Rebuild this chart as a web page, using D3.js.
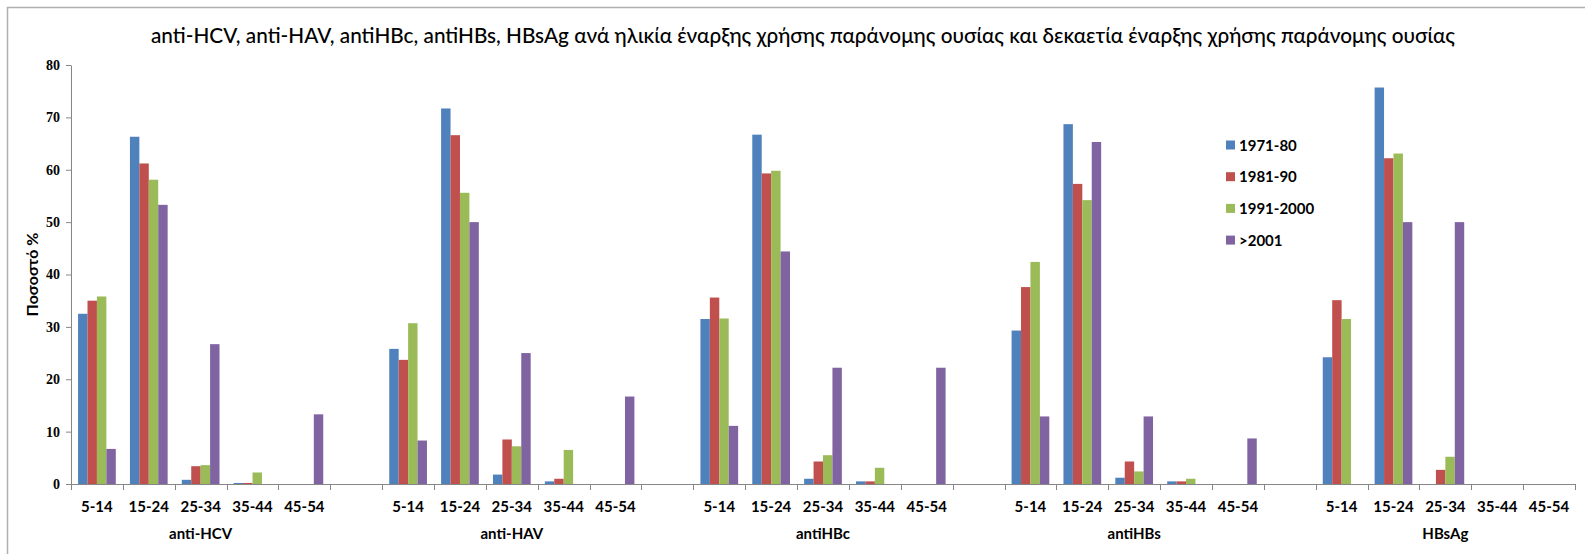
<!DOCTYPE html>
<html>
<head>
<meta charset="utf-8">
<script src="https://cdn.jsdelivr.net/npm/d3@7"></script>
<style>
  html, body { margin: 0; padding: 0; background: #fff; }
  svg { display: block; }
</style>
</head>
<body>
<svg id="chart" width="1585" height="554"></svg>
<script>
// Markers and age groups at first illicit use
const markers = ["anti-HCV", "anti-HAV", "antiHBc", "antiHBs", "HBsAg"];
const ageGroups = ["5-14", "15-24", "25-34", "35-44", "45-54"];
const decades = ["1971-80", "1981-90", "1991-2000", ">2001"];
const colors = ["#4F81BD", "#C0504D", "#9BBB59", "#8064A2"];
const yTicks = [0, 10, 20, 30, 40, 50, 60, 70, 80];

// Percentages per decade: marker by marker, age groups in order
const v1971 = [
  32.5, 66.3, 0.8, 0.2, 0,
  25.8, 71.7, 1.8, 0.5, 0,
  31.5, 66.7, 1.0, 0.5, 0,
  29.3, 68.7, 1.2, 0.5, 0,
  24.2, 75.7, 0, 0, 0
];
const v1981 = [
  35.0, 61.2, 3.4, 0.2, 0,
  23.7, 66.6, 8.5, 1.0, 0,
  35.6, 59.3, 4.3, 0.5, 0,
  37.6, 57.3, 4.3, 0.5, 0,
  35.1, 62.2, 2.7, 0, 0
];
const v1991 = [
  35.8, 58.1, 3.6, 2.2, 0,
  30.7, 55.6, 7.2, 6.5, 0,
  31.6, 59.8, 5.5, 3.1, 0,
  42.4, 54.2, 2.4, 1.0, 0,
  31.5, 63.1, 5.2, 0, 0
];
const v2001 = [
  6.7, 53.3, 26.7, 0, 13.3,
  8.3, 50.0, 25.0, 0, 16.7,
  11.1, 44.4, 22.2, 0, 22.2,
  12.9, 65.3, 12.9, 0, 8.7,
  0, 50.0, 50.0, 0, 0
];
const seriesValues = [v1971, v1981, v1991, v2001];

const svg = d3.select("#chart");
const font = "Lato, 'Open Sans', sans-serif";
const axisColor = "#868686";

// Outer frame of the chart area
svg.append("path")
  .attr("d", "M7.5,554 V7.5 H1585")
  .attr("fill", "none")
  .attr("stroke", "#b0b0b0")
  .attr("stroke-width", 1.5);

// Title
svg.append("text")
  .attr("x", 803).attr("y", 43)
  .attr("text-anchor", "middle")
  .attr("font-family", font)
  .attr("font-size", 21)
  .attr("font-weight", 500)
  .attr("textLength", 1304)
  .attr("lengthAdjust", "spacingAndGlyphs")
  .attr("fill", "#000")
  .text("anti-HCV, anti-HAV, antiHBc, antiHBs, HBsAg ανά ηλικία έναρξης χρήσης παράνομης ουσίας και δεκαετία έναρξης χρήσης παράνομης ουσίας");

// Category slots: five age groups per marker, an empty slot between markers
const slots = [];
markers.forEach((m, gi) => {
  ageGroups.forEach((a, ai) => slots.push({ key: gi + "-" + ai, marker: m, age: a, gi, ai }));
  if (gi < markers.length - 1) slots.push({ key: "gap" + gi, gap: true });
});

const x = d3.scaleBand().domain(slots.map(s => s.key)).range([71, 1575]).padding(0);
const xs = d3.scaleBand().domain(decades).range([0, x.bandwidth()]).paddingInner(0).paddingOuter(0.75);
const y = d3.scaleLinear().domain([0, 80]).range([484, 65]);

// Bars
const barData = [];
slots.filter(s => !s.gap).forEach(s => {
  decades.forEach((d, di) => {
    barData.push({ slot: s.key, decade: d, di, value: seriesValues[di][s.gi * 5 + s.ai] });
  });
});
svg.append("g").selectAll("rect")
  .data(barData.filter(d => d.value > 0))
  .join("rect")
  .attr("x", d => x(d.slot) + xs(d.decade))
  .attr("y", d => y(d.value))
  .attr("width", xs.bandwidth())
  .attr("height", d => y(0) - y(d.value))
  .attr("fill", d => colors[d.di]);

// Y axis
const yAxis = svg.append("g")
  .attr("transform", "translate(71,0)")
  .call(d3.axisLeft(y).tickValues(yTicks).tickSize(5).tickPadding(6).tickSizeOuter(0));
yAxis.select(".domain").attr("stroke", axisColor);
yAxis.selectAll(".tick line").attr("stroke", axisColor);
yAxis.selectAll(".tick text")
  .attr("font-family", "'Liberation Serif', serif")
  .attr("font-size", 14)
  .attr("font-weight", "bold")
  .attr("fill", "#000");

// X axis line and slot boundary ticks
const xAxis = svg.append("g");
xAxis.append("line")
  .attr("x1", x.range()[0]).attr("x2", x.range()[1])
  .attr("y1", y(0) + 0.5).attr("y2", y(0) + 0.5)
  .attr("stroke", axisColor);
const bounds = slots.map(s => x(s.key)).concat([x.range()[1]]);
xAxis.selectAll("line.tick")
  .data(bounds)
  .join("line")
  .attr("class", "tick")
  .attr("x1", d => Math.round(d) + 0.5).attr("x2", d => Math.round(d) + 0.5)
  .attr("y1", y(0)).attr("y2", y(0) + 6)
  .attr("stroke", axisColor);

// Age group labels
xAxis.selectAll("text.age")
  .data(slots.filter(s => !s.gap))
  .join("text")
  .attr("class", "age")
  .attr("x", d => x(d.key) + x.bandwidth() / 2)
  .attr("y", 512)
  .attr("text-anchor", "middle")
  .attr("font-family", font)
  .attr("font-size", 15)
  .attr("font-weight", "bold")
  .attr("fill", "#000")
  .text(d => d.age);

// Marker labels, centred under their five age groups
xAxis.selectAll("text.marker")
  .data(markers)
  .join("text")
  .attr("class", "marker")
  .attr("x", (m, gi) => x(gi + "-2") + x.bandwidth() / 2)
  .attr("y", 539)
  .attr("text-anchor", "middle")
  .attr("font-family", font)
  .attr("font-size", 15)
  .attr("font-weight", "bold")
  .attr("fill", "#000")
  .text(m => m);

// Y axis title
svg.append("text")
  .attr("transform", "translate(38,274.5) rotate(-90)")
  .attr("text-anchor", "middle")
  .attr("font-family", font)
  .attr("font-size", 16)
  .attr("font-weight", "bold")
  .attr("fill", "#000")
  .text("Ποσοστό %");

// Legend
const legend = svg.append("g").selectAll("g")
  .data(decades)
  .join("g")
  .attr("transform", (d, i) => `translate(1226,${145 + i * 31.7})`);
legend.append("rect")
  .attr("x", 0).attr("y", -4.5)
  .attr("width", 9).attr("height", 9)
  .attr("fill", (d, i) => colors[i]);
legend.append("text")
  .attr("x", 13).attr("y", 5.5)
  .attr("font-family", font)
  .attr("font-size", 15)
  .attr("font-weight", "bold")
  .attr("fill", "#000")
  .text(d => d);
</script>
</body>
</html>
